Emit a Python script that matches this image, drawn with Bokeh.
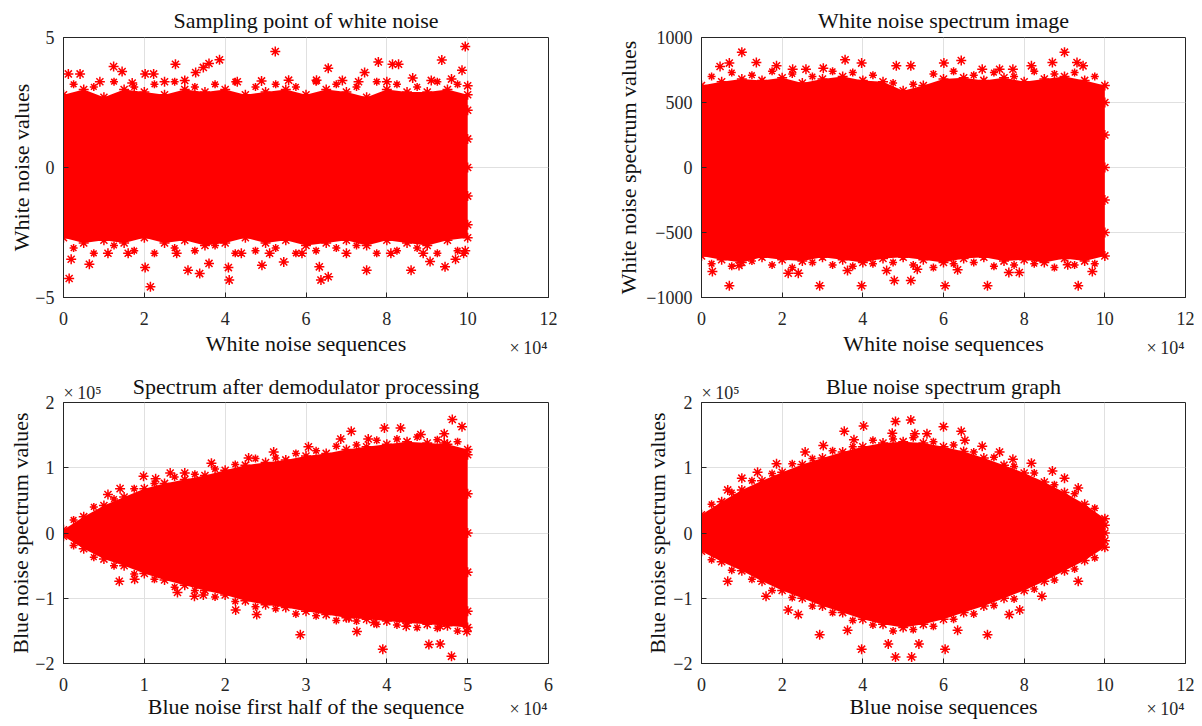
import math
from bokeh.plotting import figure
from bokeh.models import FixedTicker, Range1d, LinearAxis, CustomJSTickFormatter
from bokeh.layouts import column, row
from bokeh.embed import file_html
from bokeh.resources import INLINE

FONT = "Liberation Serif"
RED = "#ff0000"
INK = "#262626"
GRID = "#e0e0e0"
NBSP = "\u00a0"

# ---------------- Panel 1: white-noise samples (x in 1e4) ----------------
wn_title = "Sampling point of white noise"
wn_xlabel = "White noise sequences"
wn_ylabel = "White noise values"
wn_x = [0.0, 0.5, 1.0, 1.5, 2.0, 2.5, 3.0, 3.5, 4.0, 4.5, 5.0, 5.5, 6.0, 6.5, 7.0, 7.5, 8.0, 8.5, 9.0, 9.5, 10.0]
wn_hi = [2.8, 3.0, 2.7, 3.0, 2.9, 2.8, 3.0, 2.9, 3.0, 2.8, 2.9, 3.0, 2.8, 3.0, 2.9, 2.7, 3.0, 2.9, 2.9, 3.0, 2.8]
wn_lo = [-2.7, -2.9, -2.8, -2.9, -2.7, -2.9, -2.8, -3.0, -2.9, -2.7, -2.9, -2.8, -3.0, -2.9, -2.8, -3.0, -2.8, -2.9, -3.0, -2.8, -2.7]
wn_fx = [0.25, 0.75, 1.25, 1.75, 2.25, 2.75, 3.25, 3.75, 4.25, 4.75, 5.25, 5.75, 6.25, 6.75, 7.25, 7.75, 8.25, 8.75, 9.25, 9.75]
wn_fhi = [3.2, 3.1, 3.3, 3.1, 3.2, 3.3, 3.1, 3.2, 3.3, 3.1, 3.2, 3.1, 3.3, 3.2, 3.1, 3.3, 3.2, 3.1, 3.3, 3.2]
wn_flo = [-3.1, -3.3, -3.0, -3.2, -3.3, -3.1, -3.2, -3.0, -3.3, -3.2, -3.1, -3.3, -3.2, -3.1, -3.0, -3.3, -3.2, -3.1, -3.3, -3.2]
wn_side_x = [0.0, 0.0, 0.0, 0.0, 0.0, 10.0, 10.0, 10.0, 10.0, 10.0]
wn_side_y = [-2.2, -1.1, 0.0, 1.1, 2.2, -2.2, -1.1, 0.0, 1.1, 2.2]
wn_out_x = [9.94, 5.24, 3.86, 2.77, 3.60, 3.46, 3.27, 1.24, 1.45, 0.12, 0.41, 2.02, 2.23, 7.79, 8.14, 8.29,
            9.36, 6.55, 7.45, 8.64, 9.86, 10.0, 4.90, 5.57, 6.26, 0.90, 1.70, 2.50, 3.00, 4.30, 6.90, 7.30,
            8.00, 9.10, 9.60,
            0.14, 2.15, 4.10, 6.37, 6.55, 7.50, 8.60, 9.44, 3.08, 3.37, 2.02, 0.64, 4.91, 6.33, 5.45, 3.60,
            9.07, 9.70, 9.94, 0.19, 4.08, 1.10, 1.60, 2.80, 4.40, 5.10, 5.90, 7.00, 8.10, 8.90, 9.90]
wn_out_y = [4.65, 4.46, 4.14, 3.97, 4.00, 3.85, 3.65, 3.88, 3.69, 3.60, 3.60, 3.60, 3.60, 4.06, 3.97, 3.97,
            4.13, 3.82, 3.65, 3.44, 3.74, 3.14, 3.33, 3.36, 3.36, 3.30, 3.25, 3.30, 3.35, 3.30, 3.35, 3.30,
            3.30, 3.35, 3.40,
            -4.27, -4.59, -4.33, -4.33, -4.20, -3.95, -3.95, -3.82, -3.95, -4.08, -3.85, -3.72, -3.76, -3.82,
            -3.63, -3.69, -3.62, -3.53, -3.20, -3.53, -3.85, -3.30, -3.30, -3.30, -3.30, -3.30, -3.30, -3.30,
            -3.30, -3.30, -3.30]

# ---------------- Panel 2: white-noise spectrum (x in 1e4) ----------------
ws_title = "White noise spectrum image"
ws_xlabel = "White noise sequences"
ws_ylabel = "White noise spectrum values"
ws_x = [0.0, 0.5, 1.0, 1.5, 2.0, 2.5, 3.0, 3.5, 4.0, 4.5, 5.0, 5.5, 6.0, 6.5, 7.0, 7.5, 8.0, 8.5, 9.0, 9.5, 10.0]
ws_hi = [630, 660, 680, 670, 690, 650, 680, 700, 670, 660, 590, 630, 680, 690, 670, 690, 660, 680, 700, 670, 630]
ws_lo = [-680, -710, -730, -690, -710, -720, -690, -710, -730, -700, -690, -710, -730, -700, -690, -720, -710, -730, -700, -720, -680]
ws_fx = [0.25, 0.75, 1.25, 1.75, 2.25, 2.75, 3.25, 3.75, 4.25, 4.75, 5.25, 5.75, 6.25, 6.75, 7.25, 7.75, 8.25, 8.75, 9.25, 9.75]
ws_fhi = [700, 730, 710, 740, 720, 700, 740, 730, 710, 650, 640, 720, 740, 710, 730, 700, 740, 720, 730, 700]
ws_flo = [-740, -760, -720, -750, -770, -730, -750, -760, -740, -730, -750, -770, -740, -730, -760, -750, -740, -770, -750, -740]
ws_side_x = [0.0, 0.0, 0.0, 0.0, 0.0, 10.0, 10.0, 10.0, 10.0, 10.0]
ws_side_y = [-500, -250, 0, 250, 500, -500, -250, 0, 250, 500]
ws_out_x = [1.00, 9.00, 3.56, 6.44, 0.69, 1.36, 3.97, 6.01, 1.86, 5.19, 8.18, 8.70, 9.31, 4.83, 9.46, 3.02,
            7.39, 7.72, 6.96, 2.26, 2.59, 0.46,
            0.69, 2.93, 3.97, 6.04, 7.09, 9.34, 2.15, 2.40, 3.62, 4.78, 5.19, 4.59, 5.35, 6.35, 7.62, 7.88,
            9.08, 9.69, 0.27, 0.93]
ws_out_y = [887, 887, 828, 823, 803, 808, 803, 803, 782, 782, 782, 808, 808, 782, 782, 764,
            756, 756, 756, 756, 756, 777,
            -910, -910, -910, -910, -910, -910, -813, -813, -792, -869, -869, -792, -782, -787, -808, -808,
            -749, -800, -800, -754]

# ---------------- Panel 3: demodulated spectrum (x in 1e4, y in 1e5) ----------------
dm_title = "Spectrum after demodulator processing"
dm_xlabel = "Blue noise first half of the sequence"
dm_ylabel = "Blue noise spectrum values"
dm_x = [0.0, 0.25, 0.5, 0.75, 1.0, 1.25, 1.5, 1.75, 2.0, 2.25, 2.5, 2.75, 3.0, 3.25, 3.5, 3.75, 4.0, 4.25, 4.5, 4.75, 5.0]
dm_hi = [0.05, 0.25, 0.42, 0.55, 0.68, 0.76, 0.82, 0.88, 0.96, 1.04, 1.08, 1.12, 1.18, 1.22, 1.28, 1.32, 1.36, 1.40, 1.38, 1.36, 1.28]
dm_lo = [-0.05, -0.24, -0.40, -0.50, -0.62, -0.72, -0.80, -0.88, -0.95, -1.04, -1.10, -1.14, -1.20, -1.25, -1.30, -1.32, -1.35, -1.38, -1.40, -1.42, -1.45]
dm_fx = [0.125, 0.375, 0.625, 0.875, 1.125, 1.375, 1.625, 1.875, 2.125, 2.375, 2.625, 2.875, 3.125, 3.375, 3.625, 3.875, 4.125, 4.375, 4.625, 4.875]
dm_fhi = [0.20, 0.40, 0.52, 0.68, 0.76, 0.86, 0.90, 0.98, 1.05, 1.14, 1.15, 1.22, 1.26, 1.33, 1.35, 1.42, 1.44, 1.47, 1.43, 1.40]
dm_flo = [-0.19, -0.37, -0.50, -0.63, -0.71, -0.83, -0.88, -0.98, -1.05, -1.13, -1.16, -1.24, -1.27, -1.34, -1.35, -1.40, -1.41, -1.45, -1.46, -1.50]
dm_side_x = [5.0, 5.0, 5.0, 5.0, 5.0]
dm_side_y = [-1.2, -0.6, 0.0, 0.6, 1.2]
dm_out_x = [4.81, 4.93, 3.97, 4.17, 3.56, 3.43, 3.77, 4.42, 4.71, 4.71, 4.55, 3.03, 2.60, 2.29, 1.83, 1.32,
            1.50, 0.99, 1.14, 0.70, 0.55,
            0.69, 0.88, 1.41, 1.62, 1.73, 2.13, 2.39, 2.93, 3.63, 3.84, 3.95, 4.24, 4.52, 4.66, 4.80, 4.99,
            4.66, 3.53]
dm_out_y = [1.74, 1.63, 1.61, 1.61, 1.56, 1.44, 1.44, 1.51, 1.52, 1.38, 1.30, 1.32, 1.24, 1.15, 1.07, 0.92,
            0.92, 0.87, 0.83, 0.68, 0.59,
            -0.74, -0.71, -0.91, -0.97, -0.95, -1.18, -1.25, -1.56, -1.51, -1.37, -1.78, -1.43, -1.71, -1.70,
            -1.89, -1.51, -1.43, -1.30]

# ---------------- Panel 4: blue-noise spectrum (x in 1e4, y in 1e5) ----------------
bn_title = "Blue noise spectrum graph"
bn_xlabel = "Blue noise sequences"
bn_ylabel = "Blue noise spectrum values"
bn_x = [0.0, 0.5, 1.0, 1.5, 2.0, 2.5, 3.0, 3.5, 4.0, 4.5, 5.0, 5.5, 6.0, 6.5, 7.0, 7.5, 8.0, 8.5, 9.0, 9.5, 10.0]
bn_hi = [0.28, 0.48, 0.66, 0.80, 0.93, 1.05, 1.15, 1.24, 1.32, 1.38, 1.40, 1.38, 1.32, 1.25, 1.15, 1.04, 0.92, 0.78, 0.62, 0.44, 0.22]
bn_lo = [-0.28, -0.44, -0.58, -0.74, -0.88, -1.00, -1.12, -1.22, -1.32, -1.40, -1.45, -1.40, -1.32, -1.22, -1.12, -1.00, -0.88, -0.74, -0.58, -0.42, -0.22]
bn_fx = [0.25, 0.75, 1.25, 1.75, 2.25, 2.75, 3.25, 3.75, 4.25, 4.75, 5.25, 5.75, 6.25, 6.75, 7.25, 7.75, 8.25, 8.75, 9.25, 9.75]
bn_fhi = [0.44, 0.62, 0.80, 0.91, 1.06, 1.14, 1.26, 1.32, 1.42, 1.44, 1.46, 1.40, 1.35, 1.24, 1.16, 1.02, 0.92, 0.74, 0.60, 0.38]
bn_flo = [-0.41, -0.57, -0.71, -0.88, -0.99, -1.12, -1.22, -1.34, -1.41, -1.50, -1.48, -1.43, -1.32, -1.24, -1.11, -1.01, -0.86, -0.72, -0.55, -0.38]
bn_side_x = [0.0, 0.0, 0.0, 0.0, 0.0, 10.0, 10.0, 10.0]
bn_side_y = [-0.2, -0.1, 0.0, 0.1, 0.2, -0.12, 0.0, 0.12]
bn_out_x = [4.81, 5.19, 4.02, 6.00, 3.54, 6.44, 4.73, 5.29, 5.59, 3.78, 6.53, 6.96, 3.02, 7.39, 2.57, 7.72,
            1.86, 8.18, 1.39, 8.70, 1.00, 9.00, 0.65, 9.34,
            4.81, 5.21, 3.97, 6.04, 4.63, 5.39, 2.93, 7.09, 3.62, 6.35, 2.40, 2.15, 7.63, 7.89, 0.65, 9.34,
            1.60, 8.44]
bn_out_y = [1.71, 1.73, 1.64, 1.63, 1.56, 1.56, 1.53, 1.52, 1.52, 1.43, 1.42, 1.33, 1.34, 1.24, 1.24, 1.13,
            1.06, 1.07, 0.93, 0.95, 0.84, 0.84, 0.66, 0.69,
            -1.90, -1.90, -1.78, -1.78, -1.70, -1.70, -1.56, -1.56, -1.49, -1.49, -1.25, -1.18, -1.25, -1.18,
            -0.74, -0.74, -0.97, -0.97]

X_MULT = "\u00d7\u200910\u2074"   # x10^4
Y_MULT = "\u00d7\u200910\u2075"   # x10^5


def minus(v):
    return ("%g" % v).replace("-", "\u2212")


def style_axis(ax, label_size="22px"):
    ax.axis_line_color = INK
    ax.major_tick_line_color = INK
    ax.major_tick_in = 5
    ax.major_tick_out = 0
    ax.minor_tick_line_color = None
    ax.major_label_text_font = FONT
    ax.major_label_text_font_size = "18px"
    ax.major_label_text_color = INK
    ax.axis_label_text_font = FONT
    ax.axis_label_text_font_size = label_size
    ax.axis_label_text_font_style = "normal"
    ax.axis_label_text_color = "#111111"


def panel(w, h, bl, br, bt, bb, xr, yr, xticks, yticks, title, xlabel, ylabel,
          title_standoff, xl_standoff, yl_standoff, line_h, top_title):
    p = figure(width=w, height=h, output_backend="svg", toolbar_location=None,
               x_range=Range1d(*xr), y_range=Range1d(*yr),
               title=(None if top_title else title),
               min_border_left=bl, min_border_right=br, min_border_top=bt, min_border_bottom=bb)
    p.background_fill_color = "white"
    p.border_fill_color = "white"
    p.outline_line_color = INK
    p.outline_line_width = 1
    p.outline_line_alpha = 1.0
    if not top_title:
        p.title.align = "center"
        p.title.text_font = FONT
        p.title.text_font_size = "22px"
        p.title.text_font_style = "normal"
        p.title.text_color = "#111111"
        p.title.standoff = title_standoff
    p.xaxis.ticker = FixedTicker(ticks=xticks)
    p.yaxis.ticker = FixedTicker(ticks=yticks)
    p.yaxis.major_label_overrides = {t: minus(t) for t in yticks if t < 0}
    # x multiplier: second line of the next-to-last x tick label, pushed right by padding
    p.xaxis.major_label_overrides = {xticks[-2]: "%g\n%s%s" % (xticks[-2], NBSP * 27, X_MULT)}
    p.xaxis.major_label_text_line_height = line_h
    p.xaxis.axis_label = xlabel
    p.yaxis.axis_label = ylabel
    p.xaxis.axis_label_standoff = xl_standoff
    p.yaxis.axis_label_standoff = yl_standoff
    style_axis(p.xaxis[0])
    style_axis(p.yaxis[0])
    p.xaxis.major_label_standoff = 11
    p.yaxis.major_label_standoff = 9
    p.xgrid.grid_line_color = GRID
    p.ygrid.grid_line_color = GRID
    p.xgrid.ticker = FixedTicker(ticks=xticks)
    p.ygrid.ticker = FixedTicker(ticks=yticks)
    if top_title:
        # y multiplier as the single label of a bare top axis, title as its axis label
        x_per_px = (xr[1] - xr[0]) / 485.0
        top = LinearAxis(ticker=FixedTicker(ticks=[19 * x_per_px]),
                         formatter=CustomJSTickFormatter(code="return '%s';" % Y_MULT))
        style_axis(top)
        top.axis_line_color = None
        top.major_tick_line_color = None
        top.major_label_standoff = 0
        top.axis_label = title
        top.axis_label_standoff = title_standoff
        p.add_layout(top, "above")
    return p


def star(p, x, y, size):
    p.scatter(x=x, y=y, marker="asterisk", size=size, line_color=RED, line_width=1.5)


def draw(p, ex, hi, lo, fx, fhi, flo, sx, sy, ox, oy):
    p.varea(x=ex, y1=lo, y2=hi, fill_color=RED, fill_alpha=1.0)
    star(p, ex, hi, 10)
    star(p, ex, lo, 10)
    star(p, fx, fhi, 8)
    star(p, fx, flo, 8)
    star(p, sx, sy, 10)
    star(p, ox, oy, 10)


# top row frames: y 37..297, bottom row frames: y 402..663 ; x 63..548 and 701..1185
p1 = panel(601, 360, 63, 53, 37, 63, (0, 12), (-5, 5), [0, 2, 4, 6, 8, 10, 12], [-5, 0, 5],
           wn_title, wn_xlabel, wn_ylabel, 9, -30, -2, 1.48, False)
draw(p1, wn_x, wn_hi, wn_lo, wn_fx, wn_fhi, wn_flo, wn_side_x, wn_side_y, wn_out_x, wn_out_y)

p2 = panel(593, 360, 100, 9, 37, 63, (0, 12), (-1000, 1000), [0, 2, 4, 6, 8, 10, 12],
           [-1000, -500, 0, 500, 1000], ws_title, ws_xlabel, ws_ylabel, 9, -30, 2, 1.48, False)
draw(p2, ws_x, ws_hi, ws_lo, ws_fx, ws_fhi, ws_flo, ws_side_x, ws_side_y, ws_out_x, ws_out_y)

p3 = panel(601, 364, 63, 53, 42, 61, (0, 6), (-2, 2), [0, 1, 2, 3, 4, 5, 6], [-2, -1, 0, 1, 2],
           dm_title, dm_xlabel, dm_ylabel, -19, -28, -1, 1.2, True)
draw(p3, dm_x, dm_hi, dm_lo, dm_fx, dm_fhi, dm_flo, dm_side_x, dm_side_y, dm_out_x, dm_out_y)

p4 = panel(593, 364, 100, 9, 42, 61, (0, 12), (-2, 2), [0, 2, 4, 6, 8, 10, 12], [-2, -1, 0, 1, 2],
           bn_title, bn_xlabel, bn_ylabel, -19, -28, 0, 1.2, True)
draw(p4, bn_x, bn_hi, bn_lo, bn_fx, bn_fhi, bn_flo, bn_side_x, bn_side_y, bn_out_x, bn_out_y)

layout = column(row(p1, p2), row(p3, p4))
open("out.html", "w").write(file_html(layout, INLINE))
